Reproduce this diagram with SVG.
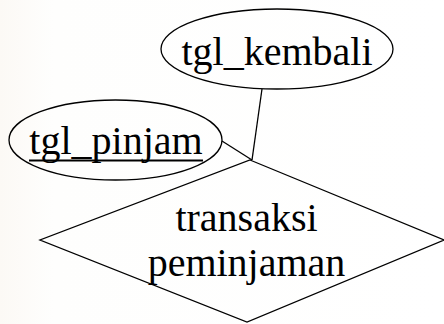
<svg xmlns="http://www.w3.org/2000/svg" width="444" height="324" viewBox="0 0 444 324">
  <defs>
    <linearGradient id="bg" x1="0" y1="0" x2="1" y2="0">
      <stop offset="0" stop-color="#fcf9f5"/>
      <stop offset="0.12" stop-color="#fefefd"/>
      <stop offset="1" stop-color="#ffffff"/>
    </linearGradient>
  </defs>
  <style>
    .shape { fill: none; stroke: #000; stroke-width: 1.3; }
    .conn { stroke: #000; stroke-width: 1.3; fill: none; }
    .label { font-family: "Liberation Serif", "Times New Roman", serif; font-size: 40px; fill: #000; text-anchor: middle; }
  </style>
  <rect width="444" height="324" fill="url(#bg)"/>

  <!-- connectors: attributes to relationship -->
  <g id="connectors">
    <line class="conn" x1="262" y1="89" x2="252" y2="160"/>
    <line class="conn" x1="222" y1="141" x2="252" y2="160"/>
  </g>

  <!-- relationship -->
  <g id="transaksi-peminjaman">
    <polygon class="shape" points="250,160 444,240 247,322 40,240"/>
    <text class="label" x="246.5" y="231">transaksi</text>
    <text class="label" x="246.5" y="276">peminjaman</text>
  </g>

  <!-- attribute: tgl_kembali -->
  <g id="tgl-kembali">
    <ellipse class="shape" cx="277" cy="49" rx="116" ry="40"/>
    <text class="label" x="277" y="65">tgl_kembali</text>
  </g>

  <!-- key attribute: tgl_pinjam -->
  <g id="tgl-pinjam">
    <ellipse class="shape" cx="115.5" cy="140" rx="106.5" ry="40"/>
    <text class="label" x="116" y="154">tgl_pinjam</text>
    <line x1="29" y1="160.5" x2="203" y2="160.5" stroke="#000" stroke-width="2"/>
  </g>
</svg>
